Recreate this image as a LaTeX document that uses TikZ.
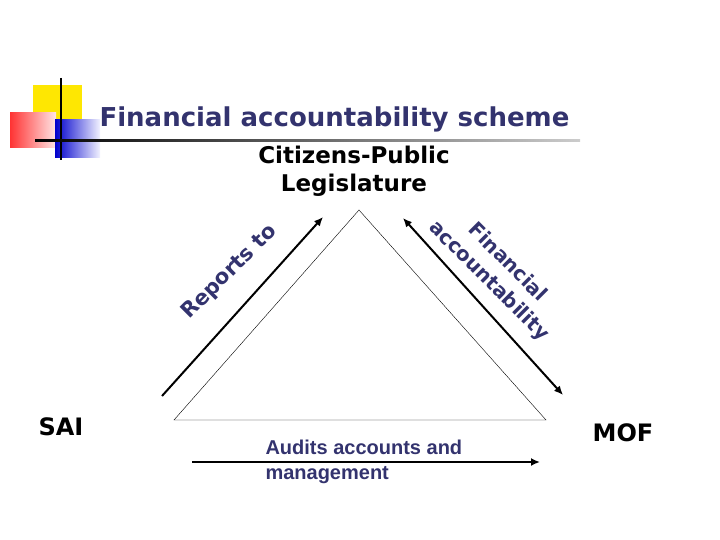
\documentclass[tikz,border=0pt]{standalone}
\usepackage{fontspec}
\usetikzlibrary{arrows.meta}
\setmainfont{DejaVu Sans}
\newfontfamily\arialfont{Liberation Sans}
\definecolor{navy}{RGB}{51,51,110}
\begin{document}
\begin{tikzpicture}[x=1pt,y=-1pt,
  lbl/.style={text=navy,font=\bfseries\fontsize{21}{25}\selectfont,align=center},
  heavy/.style={line width=2pt,-{Latex[length=9pt,width=8pt]}}]
  \useasboundingbox (0,0) rectangle (720,540);
  % logo
  \fill[yellow!90!orange] (33,85) rectangle (82,132);
  \shade[left color=red!80,right color=red!10] (10,113) rectangle (56,148);
  \shade[left color=blue!80!black,right color=blue!5] (55,120) rectangle (100,158);
  \draw[line width=1.5pt] (61,78) -- (61,160);
  \shade[left color=black,right color=gray!40] (35,140) rectangle (580,142);
  \node[text=navy,font=\bfseries\fontsize{26}{30}\selectfont,anchor=west] (title) at (96,119) {Financial accountability scheme};
  \node[font=\bfseries\fontsize{23}{28}\selectfont,align=center] (cit) at (354,171) {Citizens-Public\\Legislature};
  % triangle
  \coordinate (top) at (359,210);
  \coordinate (bl) at (174,420);
  \coordinate (br) at (546,420);
  \draw[thin] (top) -- (bl) -- (br) -- cycle;
  \node[font=\bfseries\fontsize{24}{28}\selectfont] (sai) at (61,427) {SAI};
  \node[font=\bfseries\fontsize{24}{28}\selectfont] (mof) at (623,433) {MOF};
  % arrows
  \coordinate (la) at (162,396);
  \coordinate (lb) at (323,217);
  \coordinate (ra) at (403,218);
  \coordinate (rb) at (563,395);
  \coordinate (ba) at (192,462);
  \coordinate (bb) at (540,462);
  \draw[heavy] (la) -- (lb);
  \draw[heavy,{Latex[length=9pt,width=8pt]}-{Latex[length=9pt,width=8pt]}] (ra) -- (rb);
  \draw[heavy] (ba) -- (bb);
  \node[lbl,rotate=45] (rep) at (230,272) {Reports to};
  \node[lbl,rotate=-45,font=\bfseries\fontsize{20}{26}\selectfont] (fin) at (498,272) {Financial\\accountability};
  \node[text=navy,font=\arialfont\bfseries\fontsize{20}{25}\selectfont,align=left,anchor=north west] (aud) at (262,436) {Audits accounts and\\management};
\end{tikzpicture}
\end{document}
